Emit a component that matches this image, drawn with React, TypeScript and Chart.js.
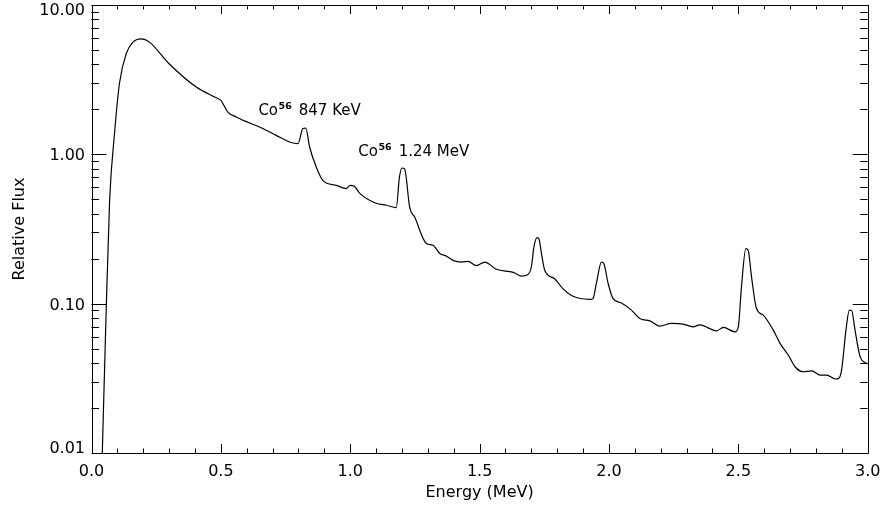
import React, { useEffect, useRef } from "react";
import { Chart, registerables } from "chart.js";

Chart.register(...registerables);

// Spectrum samples: energy (MeV) and relative flux
const energy = [
  0.041, 0.055, 0.07, 0.089, 0.108, 0.134, 0.16, 0.192, 0.224, 0.3, 0.405, 0.482, 0.5, 0.527, 0.559,
  0.662, 0.714, 0.766, 0.798, 0.817, 0.828, 0.843, 0.869, 0.894, 0.946, 0.985, 1.0, 1.017, 1.036,
  1.1, 1.14, 1.178, 1.19, 1.2, 1.21, 1.23, 1.249, 1.294, 1.32, 1.346, 1.372, 1.397, 1.43, 1.455,
  1.488, 1.52, 1.565, 1.63, 1.661, 1.687, 1.7, 1.71, 1.722, 1.73, 1.739, 1.752, 1.79, 1.822, 1.861,
  1.926, 1.938, 1.951, 1.971, 1.98, 1.997, 2.016, 2.048, 2.087, 2.119, 2.158, 2.196, 2.242, 2.287,
  2.325, 2.351, 2.416, 2.442, 2.487, 2.5, 2.512, 2.529, 2.538, 2.551, 2.57, 2.596, 2.635, 2.661,
  2.693, 2.719, 2.751, 2.784, 2.816, 2.842, 2.874, 2.887, 2.899, 2.916, 2.929, 2.938, 2.951, 2.971,
  2.997, 3.0,
];
const flux = [
  0.009, 0.07, 0.49, 1.38, 2.98, 4.72, 5.64, 5.94, 5.64, 4.04, 2.82, 2.39, 2.3, 1.92, 1.78,
  1.49, 1.34, 1.21, 1.18, 1.49, 1.5, 1.12, 0.82, 0.67, 0.62, 0.59, 0.62, 0.61, 0.55,
  0.47, 0.456, 0.44, 0.7, 0.81, 0.8, 0.44, 0.38, 0.253, 0.246, 0.217, 0.208, 0.195, 0.19, 0.192,
  0.18, 0.19, 0.17, 0.162, 0.153, 0.157, 0.176, 0.24, 0.277, 0.27, 0.217, 0.167, 0.147, 0.126, 0.112,
  0.107, 0.108, 0.136, 0.19, 0.186, 0.136, 0.108, 0.101, 0.0905, 0.0796, 0.0767, 0.0707, 0.0738, 0.073,
  0.07, 0.072, 0.0658, 0.0693, 0.0648, 0.07, 0.129, 0.234, 0.228, 0.151, 0.093, 0.0838, 0.0665, 0.0542,
  0.0453, 0.0378, 0.035, 0.0355, 0.0332, 0.0332, 0.0313, 0.0315, 0.0359, 0.0665, 0.0905, 0.09, 0.0665, 0.044,
  0.0398, 0.0395,
];

const xMajorTicks = [0, 0.5, 1.0, 1.5, 2.0, 2.5, 3.0];
const xMinorStep = 0.1;
const yMajorTicks = [0.01, 0.1, 1, 10];
const yTickLabels = ["0.01", "0.10", "1.00", "10.00"];

// Line annotations (baseline-left anchored in data coords)
const annoElement = ["Co", "Co"];
const annoMass = ["56", "56"];
const annoLabel = ["847 KeV", "1.24 MeV"];
const annoX = [0.645, 1.031];
const annoY = [1.83, 0.974];

const FONT = "'DejaVu Sans', sans-serif";
// vertical nudges (px, positive = down) keeping end labels inside the frame, as IDL does
const Y_LABEL_NUDGE = [-4, 2, 2, 6];
const PX_PER_DECADE = 149.3;

const framePlugin = {
  id: "idlFrame",
  afterDatasetsDraw(chart: any) {
    const { ctx, chartArea: a, scales } = chart;
    const xs = scales.x;
    const ys = scales.y;
    ctx.save();
    ctx.strokeStyle = "#000";
    ctx.lineWidth = 1;
    ctx.beginPath();
    ctx.rect(Math.round(a.left) + 0.5, Math.round(a.top) + 0.5, Math.round(a.right - a.left), Math.round(a.bottom - a.top));
    ctx.stroke();

    const xMaj = 9, xMin = 4.5, yMaj = 15, yMin = 7.5;
    ctx.beginPath();
    for (let v = 0; v <= 3.0001; v += xMinorStep) {
      const val = Math.round(v * 10) / 10;
      const isMajor = xMajorTicks.some((t) => Math.abs(t - val) < 1e-6);
      const len = isMajor ? xMaj : xMin;
      const px = Math.round(xs.getPixelForValue(val)) + 0.5;
      ctx.moveTo(px, a.bottom);
      ctx.lineTo(px, a.bottom - len);
      ctx.moveTo(px, a.top);
      ctx.lineTo(px, a.top + len);
    }
    for (let i = 0; i < yMajorTicks.length; i++) {
      const base = yMajorTicks[i];
      const mults = i < yMajorTicks.length - 1 ? [1, 2, 3, 4, 5, 6, 7, 8, 9] : [1];
      for (const m of mults) {
        const val = base * m;
        const len = m === 1 ? yMaj : yMin;
        const py = Math.round(ys.getPixelForValue(val)) + 0.5;
        ctx.moveTo(a.left, py);
        ctx.lineTo(a.left + len, py);
        ctx.moveTo(a.right, py);
        ctx.lineTo(a.right - len, py);
      }
    }
    ctx.stroke();

    ctx.fillStyle = "#000";
    ctx.textBaseline = "alphabetic";
    ctx.textAlign = "left";
    for (let i = 0; i < annoX.length; i++) {
      let px = xs.getPixelForValue(annoX[i]);
      const py = ys.getPixelForValue(annoY[i]);
      ctx.font = `15px ${FONT}`;
      ctx.fillText(annoElement[i], px, py);
      px += ctx.measureText(annoElement[i]).width + 0.5;
      ctx.font = `bold 9.5px ${FONT}`;
      ctx.fillText(annoMass[i], px, py - 5.7);
      px += ctx.measureText(annoMass[i]).width + 7;
      ctx.font = `15px ${FONT}`;
      ctx.fillText(annoLabel[i], px, py);
    }
    ctx.restore();
  },
};

export default function App() {
  const ref = useRef<HTMLCanvasElement | null>(null);
  useEffect(() => {
    if (!ref.current) return;
    const points = energy.map((e, i) => ({ x: e, y: flux[i] }));
    const chart = new Chart(ref.current, {
      type: "line",
      data: {
        datasets: [
          {
            data: points,
            borderColor: "#000",
            borderWidth: 1.2,
            pointRadius: 0,
            fill: false,
            cubicInterpolationMode: "monotone",
          },
        ],
      },
      options: {
        responsive: false,
        animation: false,
        layout: { padding: { left: 0, top: 5, right: 16.3, bottom: 0 } },
        plugins: { legend: { display: false }, tooltip: { enabled: false } },
        scales: {
          x: {
            type: "linear",
            min: 0,
            max: 3,
            grid: { display: false, drawTicks: false },
            border: { display: false },
            afterBuildTicks: (s: any) => {
              s.ticks = xMajorTicks.map((v) => ({ value: v }));
            },
            afterFit: (s: any) => {
              s.height = 55;
              s.paddingLeft = 0;
              s.paddingRight = 0;
            },
            ticks: {
              color: "#000",
              padding: 9,
              maxRotation: 0,
              autoSkip: false,
              font: { family: FONT, size: 16 },
              callback: (v: any) => Number(v).toFixed(1),
            },
            title: {
              display: true,
              text: "Energy (MeV)",
              color: "#000",
              font: { family: FONT, size: 16 },
              padding: { top: 0, bottom: 6 },
            },
          },
          y: {
            type: "logarithmic",
            min: 0.01,
            max: 10,
            grid: { display: false, drawTicks: false },
            border: { display: false },
            afterBuildTicks: (s: any) => {
              s.ticks = yMajorTicks.map((v, i) => ({
                value: v * Math.pow(10, -Y_LABEL_NUDGE[i] / PX_PER_DECADE),
              }));
            },
            afterFit: (s: any) => {
              s.width = 91.5;
              s.paddingTop = 0;
              s.paddingBottom = 0;
            },
            ticks: {
              color: "#000",
              padding: 6.5,
              autoSkip: false,
              font: { family: FONT, size: 16 },
              callback: (_v: any, i: number) => yTickLabels[i],
            },
            title: {
              display: true,
              text: "Relative Flux",
              color: "#000",
              font: { family: FONT, size: 16 },
              padding: { top: 10, bottom: 0 },
            },
          },
        },
      },
      plugins: [framePlugin],
    });
    return () => chart.destroy();
  }, []);
  return (
    <div style={{ position: "absolute", left: 0, top: 0, width: 884, height: 508, background: "#fff" }}>
      <canvas ref={ref} width={884} height={508} style={{ display: "block" }} />
    </div>
  );
}
